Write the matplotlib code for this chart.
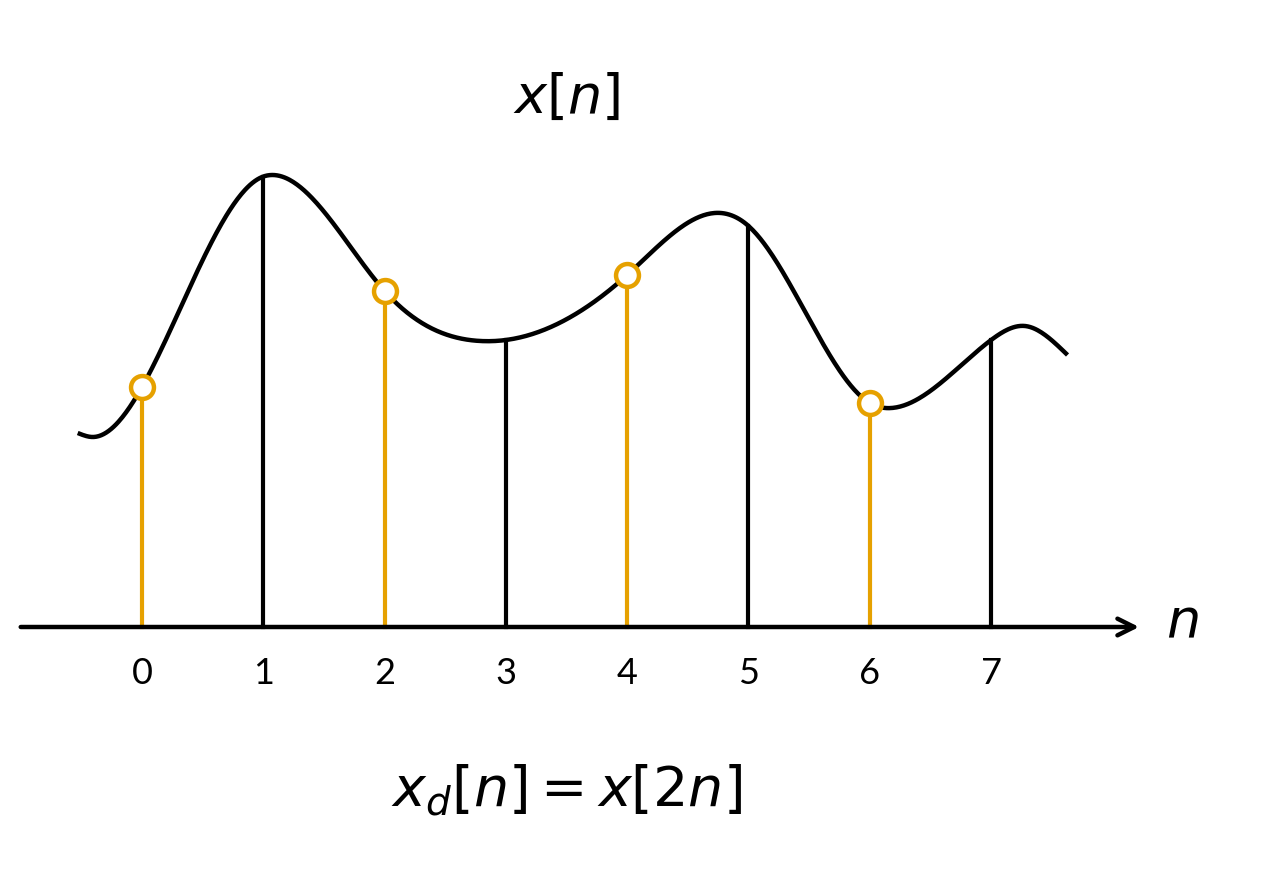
import numpy as np
import matplotlib.pyplot as plt

# sample values x[n] for n = 0..7
n_idx = np.arange(8)
x_vals = [2.40, 4.50, 3.36, 2.87, 3.52, 4.01, 2.24, 2.87]

# knots of the continuous curve (n, value)
curve_t = [-0.53, -0.41, 0.0, 0.99, 1.07, 2.0, 2.79, 3.0, 4.0, 4.72, 5.0, 6.0, 6.18, 7.0, 7.28, 7.63]
curve_v = [1.94, 1.90, 2.40, 4.50, 4.52, 3.36, 2.86, 2.87, 3.52, 4.14, 4.01, 2.24, 2.19, 2.87, 3.01, 2.72]

tick_labels = ['0', '1', '2', '3', '4', '5', '6', '7']

ORANGE = '#E6A100'


def natural_spline(xk, yk, xs):
    xk = np.asarray(xk, float)
    yk = np.asarray(yk, float)
    n = len(xk)
    h = np.diff(xk)
    A = np.zeros((n, n))
    b = np.zeros(n)
    A[0, 0] = A[-1, -1] = 1
    for i in range(1, n - 1):
        A[i, i - 1] = h[i - 1]
        A[i, i] = 2 * (h[i - 1] + h[i])
        A[i, i + 1] = h[i]
        b[i] = 6 * ((yk[i + 1] - yk[i]) / h[i] - (yk[i] - yk[i - 1]) / h[i - 1])
    M = np.linalg.solve(A, b)
    out = np.empty_like(xs)
    for j, x in enumerate(xs):
        i = min(max(np.searchsorted(xk, x) - 1, 0), n - 2)
        t0, t1 = xk[i], xk[i + 1]
        hi = h[i]
        out[j] = (M[i] * (t1 - x) ** 3 / (6 * hi) + M[i + 1] * (x - t0) ** 3 / (6 * hi)
                  + (yk[i] / hi - M[i] * hi / 6) * (t1 - x)
                  + (yk[i + 1] / hi - M[i + 1] * hi / 6) * (x - t0))
    return out


fig = plt.figure(figsize=(12.8, 8.86), dpi=100)
ax = fig.add_axes([0, 0, 1, 1])
ax.set_xlim(-142 / 121.3, (1280 - 142) / 121.3)
ax.set_ylim(-2.59, 6.27)
ax.axis('off')

# continuous curve
ts = np.linspace(curve_t[0], curve_t[-1], 800)
ax.plot(ts, natural_spline(curve_t, curve_v, ts), color='black', lw=3.2, solid_capstyle='butt', zorder=2)

# stems
for k, v in zip(n_idx, x_vals):
    if k % 2 == 0:
        ax.plot([k, k], [0, v], color=ORANGE, lw=3.0, zorder=3)
        ax.plot(k, v, 'o', ms=16.5, mfc='white', mec=ORANGE, mew=3.2, zorder=4)
    else:
        ax.plot([k, k], [0, v], color='black', lw=3.0, zorder=3)
    ax.text(k, -0.46, tick_labels[k], ha='center', va='center', fontsize=26, family='Lato')

# axis with arrow
ax.annotate('', xy=(8.22, 0), xytext=(-1.0, 0),
            arrowprops=dict(arrowstyle='->', lw=3.2, color='black', mutation_scale=30,
                            shrinkA=0, shrinkB=0))
ax.text(8.58, 0.05, r'$n$', ha='center', va='center', fontsize=39)

ax.text(3.50, 5.29, r'$x[n]$', ha='center', va='center', fontsize=39)
ax.text(3.50, -1.63, r'$x_d[n] = x[2n]$', ha='center', va='center', fontsize=40)

fig.savefig('out.png', dpi=100)
